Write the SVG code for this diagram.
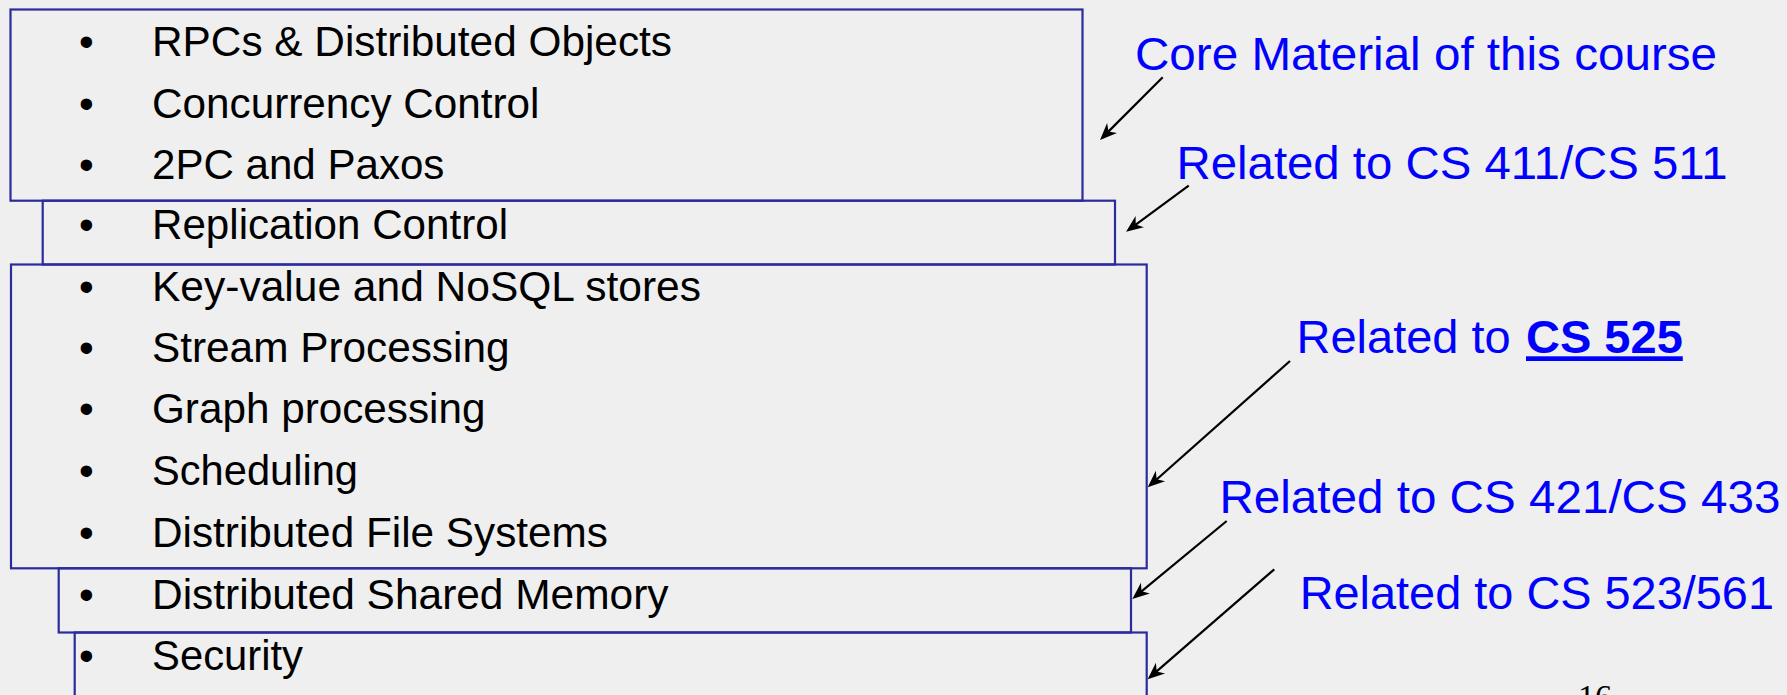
<svg xmlns="http://www.w3.org/2000/svg" width="1787" height="695" viewBox="0 0 1787 695">
<style>
.bg{fill:#EFEFEF}
.box{fill:none;stroke:#2B2B9C;stroke-width:2.2}
.item{font-family:"Liberation Sans",Arial,sans-serif;font-size:42px;fill:#000}
.lbl{font-family:"Liberation Sans",Arial,sans-serif;font-size:47px;fill:#0000FF}
.arr{fill:none;stroke:#000;stroke-width:2.2}
.pg{font-family:"Liberation Serif","Times New Roman",serif;font-size:34px;fill:#000}
</style>
<defs>
<marker id="head" markerUnits="userSpaceOnUse" viewBox="-18 -8 19 16" markerWidth="19" markerHeight="16" refX="-10" refY="0" orient="auto" overflow="visible">
<path d="M0,0 L-17,-7 L-12,0 L-17,7 Z" fill="#000"/>
</marker>
</defs>
<rect class="bg" x="0" y="0" width="1787" height="695"/>

<g id="box-core">
<rect class="box" x="10.5" y="9.5" width="1072" height="191.2"/>
<text class="item" x="79" y="56">•</text><text class="item" x="152" y="56" textLength="520" lengthAdjust="spacingAndGlyphs">RPCs &amp; Distributed Objects</text>
<text class="item" x="79" y="117.5">•</text><text class="item" x="152" y="117.5" textLength="387.5" lengthAdjust="spacingAndGlyphs">Concurrency Control</text>
<text class="item" x="79" y="178.5">•</text><text class="item" x="152" y="178.5" textLength="292.4" lengthAdjust="spacingAndGlyphs">2PC and Paxos</text>
</g>

<g id="box-replication">
<rect class="box" x="42.7" y="200.7" width="1072.3" height="63.8"/>
<text class="item" x="79" y="239">•</text><text class="item" x="152" y="239" textLength="356" lengthAdjust="spacingAndGlyphs">Replication Control</text>
</g>

<g id="box-525">
<rect class="box" x="11" y="264.5" width="1135.7" height="303.8"/>
<text class="item" x="79" y="301">•</text><text class="item" x="152" y="301" textLength="549" lengthAdjust="spacingAndGlyphs">Key-value and NoSQL stores</text>
<text class="item" x="79" y="362">•</text><text class="item" x="152" y="362" textLength="357.5" lengthAdjust="spacingAndGlyphs">Stream Processing</text>
<text class="item" x="79" y="423.3">•</text><text class="item" x="152" y="423.3" textLength="333.5" lengthAdjust="spacingAndGlyphs">Graph processing</text>
<text class="item" x="79" y="485.3">•</text><text class="item" x="152" y="485.3" textLength="206" lengthAdjust="spacingAndGlyphs">Scheduling</text>
<text class="item" x="79" y="546.6">•</text><text class="item" x="152" y="546.6" textLength="456" lengthAdjust="spacingAndGlyphs">Distributed File Systems</text>
</g>

<g id="box-dsm">
<rect class="box" x="58.7" y="568.3" width="1072.3" height="64.2"/>
<text class="item" x="79" y="608.6">•</text><text class="item" x="152" y="608.6" textLength="516.5" lengthAdjust="spacingAndGlyphs">Distributed Shared Memory</text>
</g>

<g id="box-security">
<rect class="box" x="74.7" y="632.5" width="1072" height="100"/>
<text class="item" x="79" y="670">•</text><text class="item" x="152" y="670" textLength="151" lengthAdjust="spacingAndGlyphs">Security</text>
</g>

<g id="label-core"><text class="lbl" x="1135" y="69.5" textLength="582" lengthAdjust="spacingAndGlyphs">Core Material of this course</text></g>
<g id="label-411"><text class="lbl" x="1176.5" y="178.5" textLength="551" lengthAdjust="spacingAndGlyphs">Related to CS 411/CS 511</text></g>
<g id="label-525"><text class="lbl" x="1296.5" y="353.3">Related to <tspan x="1526" font-weight="bold" text-decoration="underline">CS 525</tspan></text></g>
<g id="label-421"><text class="lbl" x="1219.4" y="513.3" textLength="561" lengthAdjust="spacingAndGlyphs">Related to CS 421/CS 433</text></g>
<g id="label-523"><text class="lbl" x="1299.7" y="609.3" textLength="474.3" lengthAdjust="spacingAndGlyphs">Related to CS 523/561</text></g>

<g id="connectors">
<line class="arr" x1="1162.7" y1="77.3" x2="1107.1" y2="132.9" marker-end="url(#head)"/>
<line class="arr" x1="1188.7" y1="185.7" x2="1134.1" y2="225.8" marker-end="url(#head)"/>
<line class="arr" x1="1290" y1="361" x2="1155.2" y2="480.7" marker-end="url(#head)"/>
<line class="arr" x1="1226.7" y1="521" x2="1140.0" y2="592.6" marker-end="url(#head)"/>
<line class="arr" x1="1274.3" y1="569.3" x2="1155.2" y2="672.7" marker-end="url(#head)"/>
</g>

<text class="pg" x="1578" y="708">16</text>
</svg>
